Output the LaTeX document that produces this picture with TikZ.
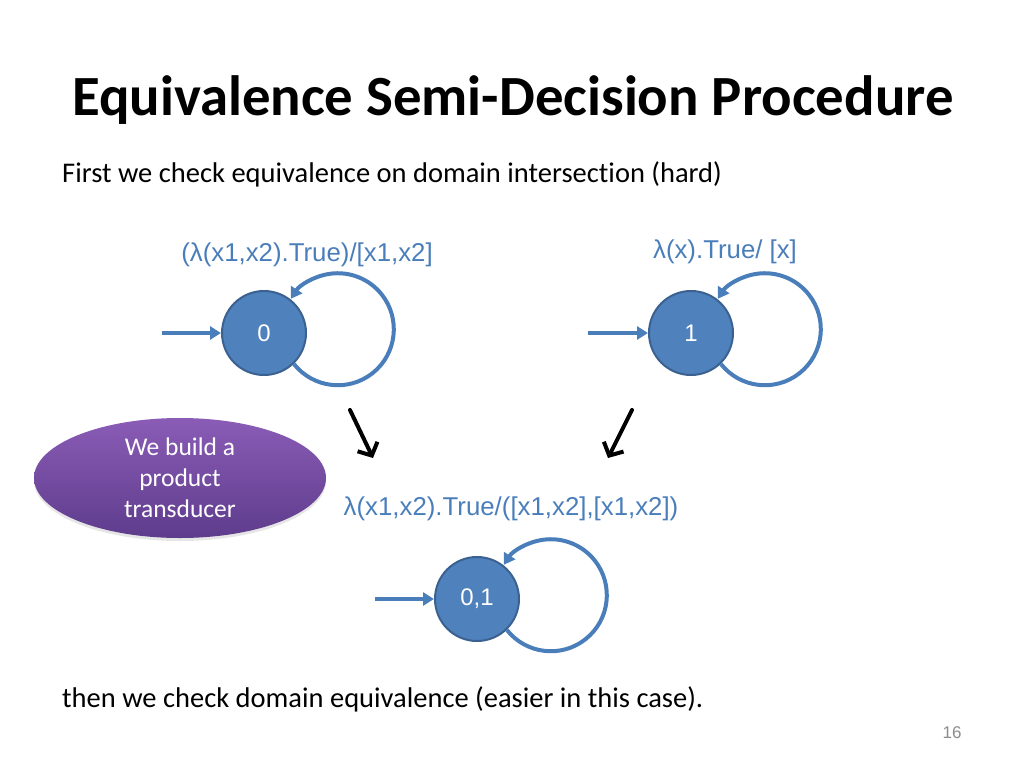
\documentclass[tikz,border=0pt]{standalone}
\usepackage{fontspec}
\setmainfont{Carlito}[Ligatures=NoCommon]
\newfontfamily\arialf{Liberation Sans}
\usetikzlibrary{arrows.meta,shapes.geometric,shadows}
\definecolor{sblue}{HTML}{4F81BD}
\definecolor{sborder}{HTML}{3B6190}
\definecolor{lblue}{HTML}{4A7EBB}
\definecolor{ptop}{HTML}{8A5CB6}
\definecolor{pbot}{HTML}{5E3C8C}
\definecolor{pnum}{HTML}{8C8C8C}
\begin{document}
\begin{tikzpicture}[x=1pt,y=-1pt,
  state/.style={circle, minimum size=84pt, inner sep=0pt, fill=sblue, draw=sborder, line width=2pt, text=white, font=\arialf\fontsize{24}{24}\selectfont},
  blueline/.style={draw=lblue, line width=4pt, -{Triangle[length=11pt,width=13pt]}},
  blackarrow/.style={draw=black, line width=4pt, line cap=round, -{Straight Barb[length=10pt,width=22pt]}},
  tlabel/.style={text=lblue, inner sep=0pt, font=\arialf\fontsize{25.8}{26}\selectfont},
  bodytext/.style={anchor=base west, inner sep=0pt, font=\fontsize{28.5}{34}\selectfont},
]
\useasboundingbox (0,0) rectangle (1024,768);

% title and texts
\node[anchor=base west, inner sep=0pt, font=\bfseries\fontsize{56.8}{64}\selectfont] (title) at (72,115) {Equivalence Semi-Decision Procedure};
\node[bodytext] (sub) at (62,182) {First we check equivalence on domain intersection (hard)};
\node[bodytext] (bottom) at (62,707) {then we check domain equivalence (easier in this case).};
\node[text=pnum, inner sep=0pt, font=\arialf\fontsize{17}{17}\selectfont] (pg) at (952,733) {16};

% states
\node[state] (s0) at (264,333) {0};
\node[state] (s1) at (691,333) {1};
\node[state] (s01) at (477,599) {0,1};

% labels
\node[tlabel] (l0) at (307,255) {(λ(x1,x2).True)/[x1,x2]};
\node[tlabel] (l1) at (725,252) {λ(x).True/ [x]};
\node[tlabel] (l01) at (511,509) {λ(x1,x2).True/([x1,x2],[x1,x2])};

% initial arrows
\coordinate (i0) at (162,333);
\coordinate (i1) at (588,333);
\coordinate (i01) at (375,599);
\draw[blueline] (i0) -- (s0.west);
\draw[blueline] (i1) -- (s1.west);
\draw[blueline] (i01) -- (s01.west);

% loops
\draw[blueline] (s0.-46) arc[start angle=141.7, end angle=-147.1, radius=56];
\draw[blueline] (s1.-46) arc[start angle=141.7, end angle=-147.1, radius=56];
\draw[blueline] (s01.-46) arc[start angle=141.7, end angle=-147.1, radius=56];

% black arrows
\coordinate (a1s) at (350,410);
\coordinate (a1e) at (373,458);
\coordinate (a2s) at (632,410);
\coordinate (a2e) at (608,458);
\draw[blackarrow] (a1s) -- (a1e);
\draw[blackarrow] (a2s) -- (a2e);

% ellipse
\node[ellipse, minimum width=292pt, minimum height=120pt, inner sep=0pt,
      top color=ptop, bottom color=pbot, text=white, align=center,
      drop shadow={opacity=0.2, shadow xshift=0pt, shadow yshift=-3pt},
      font=\fontsize{25.5}{31}\selectfont] (pe) at (180,478) {We build a\\product\\transducer};
\end{tikzpicture}
\end{document}
